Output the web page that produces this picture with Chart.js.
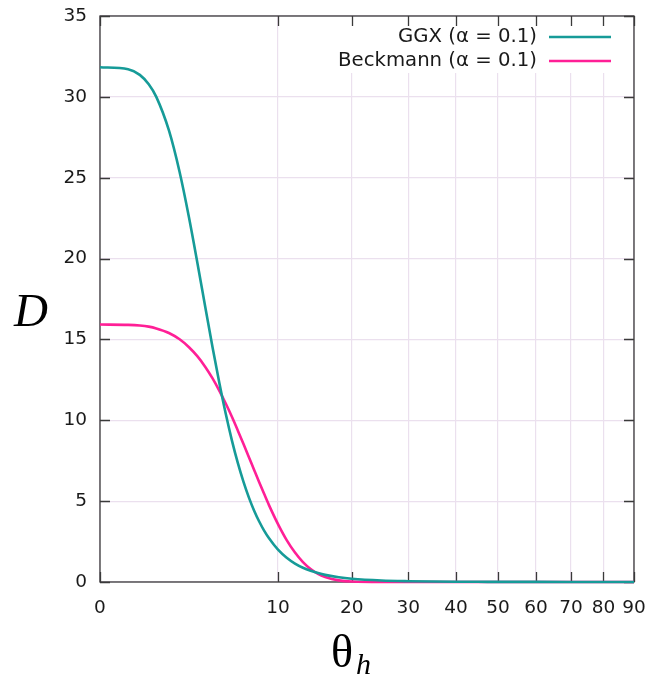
<!DOCTYPE html>
<html>
<head>
<meta charset="utf-8">
<script src="https://cdn.jsdelivr.net/npm/chart.js@4.4.1/dist/chart.umd.min.js"></script>
<style>
  html, body { margin: 0; padding: 0; background: #ffffff; }
  #wrap { width: 652px; height: 677px; position: relative; }
</style>
</head>
<body>
<div id="wrap"><canvas id="c" width="652" height="677"></canvas></div>
<script>
// θ_h in degrees (sample positions)
const thetaDeg = [0, 0.25, 0.5, 0.75, 1, 1.5, 2, 2.5, 3, 3.5, 4, 4.5, 5, 5.5, 6, 6.5, 7, 7.5, 8, 8.5, 9, 10, 11, 12, 13, 14, 15, 16, 18, 20, 25, 30, 35, 40, 45, 50, 60, 70, 80, 90];
// GGX (α = 0.1)
const ggxD = [31.83, 31.71, 31.36, 30.78, 30.00, 27.92, 25.35, 22.54, 19.70, 16.99, 14.50, 12.29, 10.37, 8.73, 7.35, 6.19, 5.22, 4.41, 3.74, 3.18, 2.72, 2.00, 1.50, 1.14, 0.88, 0.69, 0.55, 0.44, 0.29, 0.20, 0.091, 0.048, 0.028, 0.018, 0.012, 0.009, 0.0056, 0.0041, 0.0034, 0.0032];
// Beckmann (α = 0.1)
const beckmannD = [15.92, 15.90, 15.86, 15.79, 15.68, 15.40, 15.01, 14.52, 13.95, 13.30, 12.59, 11.82, 11.02, 10.20, 9.36, 8.53, 7.72, 6.93, 6.17, 5.45, 4.77, 3.58, 2.59, 1.82, 1.23, 0.80, 0.50, 0.31, 0.10, 0.027, 0.0004, 0, 0, 0, 0, 0, 0, 0, 0, 0];
// axis tick labels
const xTickLabels = [0, 10, 20, 30, 40, 50, 60, 70, 80, 90];
const yTickLabels = [0, 5, 10, 15, 20, 25, 30, 35];
const seriesNames = ['GGX (\u03b1 = 0.1)', 'Beckmann (\u03b1 = 0.1)'];

const colGGX = '#169b98';
const colBeck = '#ff1f96';
const axisCol = '#3a3a3a';
const gridCol = '#ebe0ee';
const textCol = '#1a1a1a';
const tickFont = { family: '"DejaVu Sans", sans-serif', size: 18.5 };

// x axis is drawn on a square-root scale of θ
const toX = v => Math.sqrt(v);
const pts = arr => thetaDeg.map((t, i) => ({ x: toX(t), y: arr[i] }));

const framePlugin = {
  id: 'frame',
  beforeDatasetsDraw(chart) {
    const { ctx, chartArea: a, scales } = chart;
    ctx.save();
    // opaque key box
    ctx.fillStyle = '#ffffff';
    ctx.fillRect(322, a.top + 1, a.right - 322 - 1, 56);
    // border
    ctx.strokeStyle = axisCol;
    ctx.lineWidth = 1.3;
    ctx.strokeRect(a.left, a.top, a.right - a.left, a.bottom - a.top);
    // inward ticks
    const L = 10;
    ctx.beginPath();
    xTickLabels.forEach(v => {
      const px = Math.round(scales.x.getPixelForValue(toX(v))) + 0.5;
      ctx.moveTo(px, a.bottom); ctx.lineTo(px, a.bottom - L);
      ctx.moveTo(px, a.top); ctx.lineTo(px, a.top + L);
    });
    yTickLabels.forEach(v => {
      const py = Math.round(scales.y.getPixelForValue(v)) + 0.5;
      ctx.moveTo(a.left, py); ctx.lineTo(a.left + L, py);
      ctx.moveTo(a.right, py); ctx.lineTo(a.right - L, py);
    });
    ctx.stroke();
    ctx.restore();
  },
  afterDatasetsDraw(chart) {
    const { ctx } = chart;
    ctx.save();
    // key
    ctx.font = '19.7px "DejaVu Sans", sans-serif';
    ctx.fillStyle = textCol;
    ctx.textAlign = 'right';
    ctx.textBaseline = 'middle';
    const rows = [[seriesNames[0], colGGX, 37], [seriesNames[1], colBeck, 61]];
    rows.forEach(([txt, col, y]) => {
      ctx.fillText(txt, 537, y);
      ctx.strokeStyle = col;
      ctx.lineWidth = 2.6;
      ctx.beginPath();
      ctx.moveTo(549, y); ctx.lineTo(611, y);
      ctx.stroke();
    });
    // axis titles
    ctx.fillStyle = '#000000';
    ctx.textAlign = 'center';
    ctx.textBaseline = 'alphabetic';
    ctx.font = 'italic 47px "Liberation Serif", serif';
    ctx.fillText('D', 31, 326);
    ctx.textAlign = 'left';
    ctx.font = '46px "Liberation Serif", serif';
    ctx.fillText('\u03b8', 331, 667);
    ctx.font = 'italic 30px "Liberation Serif", serif';
    ctx.fillText('h', 356, 674);
    ctx.restore();
  }
};

new Chart(document.getElementById('c'), {
  type: 'line',
  data: {
    datasets: [
      { label: seriesNames[0], data: pts(ggxD), borderColor: colGGX, borderWidth: 2.6, pointRadius: 0, fill: false, cubicInterpolationMode: 'monotone', clip: 4 },
      { label: seriesNames[1], data: pts(beckmannD), borderColor: colBeck, borderWidth: 2.6, pointRadius: 0, fill: false, cubicInterpolationMode: 'monotone', clip: 4 }
    ]
  },
  options: {
    responsive: false,
    animation: false,
    devicePixelRatio: 1,
    layout: { padding: { top: 16, right: 18, left: 0, bottom: 0 } },
    plugins: { legend: { display: false }, tooltip: { enabled: false } },
    scales: {
      x: {
        type: 'linear',
        min: 0,
        max: toX(90),
        afterBuildTicks: s => { s.ticks = xTickLabels.map(v => ({ value: toX(v) })); },
        afterFit: s => { s.height = 95; s.paddingLeft = 0; s.paddingRight = 0; },
        grid: { color: gridCol, drawTicks: false, lineWidth: 1.2 },
        border: { display: false },
        ticks: { autoSkip: false, maxRotation: 0, padding: 15, color: textCol, font: tickFont,
                 callback: v => String(Math.round(v * v)) }
      },
      y: {
        type: 'linear',
        min: 0,
        max: 35,
        afterBuildTicks: s => { s.ticks = yTickLabels.map(v => ({ value: v })); },
        afterFit: s => { s.width = 100; s.paddingTop = 0; s.paddingBottom = 0; },
        grid: { color: gridCol, drawTicks: false, lineWidth: 1.2 },
        border: { display: false },
        ticks: { padding: 13, color: textCol, font: tickFont }
      }
    }
  },
  plugins: [framePlugin]
});
</script>
</body>
</html>
